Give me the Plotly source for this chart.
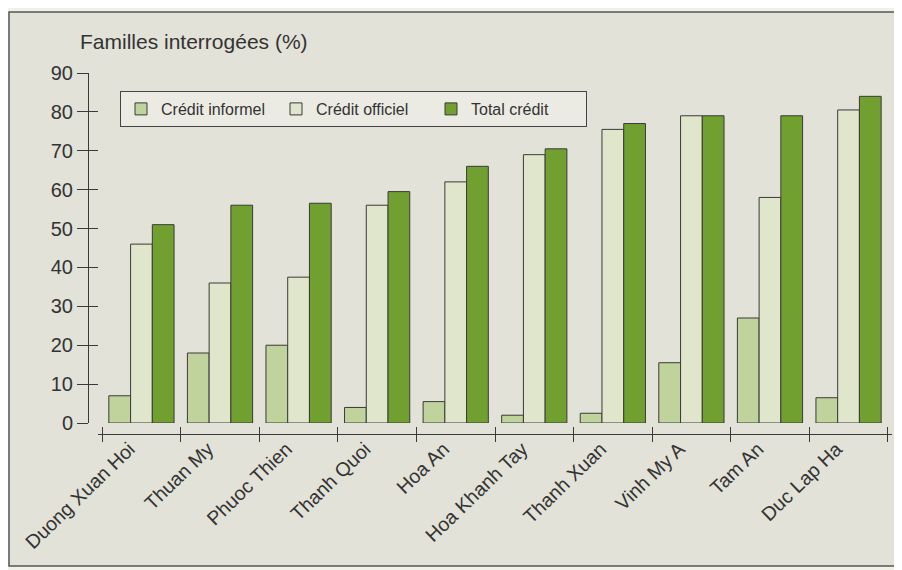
import plotly.graph_objects as go

categories = ["Duong Xuan Hoi", "Thuan My", "Phuoc Thien", "Thanh Quoi", "Hoa An",
              "Hoa Khanh Tay", "Thanh Xuan", "Vinh My A", "Tam An", "Duc Lap Ha"]
credit_informel = [7, 18, 20, 4, 5.5, 2, 2.5, 15.5, 27, 6.5]
credit_officiel = [46, 36, 37.5, 56, 62, 69, 75.5, 79, 58, 80.5]
total_credit = [51, 56, 56.5, 59.5, 66, 70.5, 77, 79, 79, 84]
y_ticks = [0, 10, 20, 30, 40, 50, 60, 70, 80, 90]

FONT = "Liberation Sans, Arial, sans-serif"
TXT = "#333333"
LINE = "#3a3a3a"

# page body has an 8px margin: figure origin sits at (8, 8) on screen
W, H = 894, 562
L, T = 80, 65          # plot-area left / top in figure px
PW, PH = 804, 361      # plot-area width / height

fig = go.Figure()
series = [
    ("Crédit informel", credit_informel, "#c0d39c"),
    ("Crédit officiel", credit_officiel, "#e0e6cc"),
    ("Total crédit", total_credit, "#72a030"),
]
for name, vals, col in series:
    fig.add_trace(go.Bar(x=categories, y=vals, name=name,
                         marker=dict(color=col, line=dict(color=LINE, width=1))))

# invisible trace to carry the secondary axes (crossing ticks)
fig.add_trace(go.Scatter(x=categories, y=[None]*len(categories), xaxis="x2", yaxis="y2",
                         showlegend=False, hoverinfo="skip"))

ydom0 = 11 / PH
xdom0 = 10 / PW
fig.update_layout(
    width=W, height=H,
    margin=dict(l=L, r=W - L - PW, t=T, b=H - T - PH, autoexpand=False),
    paper_bgcolor="#f1f0e9",
    plot_bgcolor="#ebebe3",
    barmode="group", bargap=0.17, bargroupgap=0,
    font=dict(family=FONT, color=TXT),
    xaxis=dict(domain=[xdom0, 1], anchor="free", position=0, automargin=False,
               showline=True, linecolor=LINE, linewidth=1,
               ticks="outside", tickson="boundaries", ticklen=7, tickcolor=LINE,
               tickangle=-44, tickfont=dict(size=19.5, color=TXT),
               ticklabelshift=-12, ticklabelstandoff=-5,
               showgrid=False, zeroline=False),
    xaxis2=dict(overlaying="x", matches="x", anchor="free", position=0, automargin=False,
                domain=[xdom0, 1],
                ticks="inside", tickson="boundaries", ticklen=7, tickcolor=LINE,
                showticklabels=False, showgrid=False, showline=False, zeroline=False),
    yaxis=dict(domain=[ydom0, 1], anchor="free", position=0, range=[0, 90], automargin=False,
               tickvals=y_ticks, showline=True, linecolor=LINE, linewidth=1,
               ticks="outside", ticklen=11, tickcolor=LINE,
               tickfont=dict(size=20, color=TXT),
               showgrid=False, zeroline=False),
    yaxis2=dict(domain=[ydom0, 1], overlaying="y", matches="y", anchor="free", position=0,
                automargin=False,
                tickvals=y_ticks, ticks="inside", ticklen=9, tickcolor=LINE,
                showticklabels=False, showgrid=False, showline=False, zeroline=False),
    legend=dict(orientation="h", x=32 / PW, y=1 - 18 / PH, xanchor="left", yanchor="top",
                bgcolor="#ebebe3", bordercolor="#444444", borderwidth=1,
                font=dict(size=16, color=TXT), entrywidth=110, traceorder="normal"),
    shapes=[
        dict(type="rect", xref="paper", yref="paper",
             x0=(1 - L) / PW, x1=(893 - L) / PW,
             y0=-(558 - (T + PH)) / PH, y1=1 + (T - 4) / PH,
             line=dict(color="#555555", width=1.5), fillcolor="#e2e2d8", layer="below"),
    ],
    annotations=[
        dict(text="Familles interrogées (%)", xref="paper", yref="paper",
             x=-10 / PW, y=1 + 31 / PH, xanchor="left", yanchor="middle",
             showarrow=False, font=dict(size=21, color=TXT)),
    ],
)

fig.write_html("out.html")
